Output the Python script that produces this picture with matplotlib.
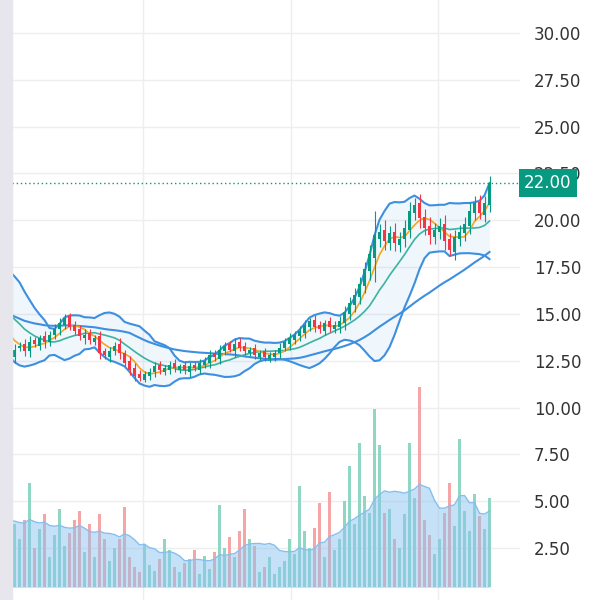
import matplotlib
matplotlib.use("Agg")
import matplotlib.pyplot as plt
import numpy as np
import pandas as pd
from matplotlib.patches import Rectangle

pre_closes = [16.6, 16.2, 16.4, 15.8, 15.5, 15.1, 14.8, 14.9, 14.3, 13.8, 13.5, 13.2]
pre_volumes = [4.2, 3.9, 4.4, 3.6, 4.0, 4.3, 3.8, 4.1, 3.7, 3.9, 4.0, 3.8]

closes = [13.1, 13.3, 13.0, 13.5, 13.4, 13.7, 13.5, 13.9, 14.2, 14.5, 14.8, 14.3, 14.1, 13.8, 13.9, 13.6,
          13.7, 12.9, 12.8, 13.0, 13.3, 12.9, 12.4, 12.0, 11.7, 11.6, 11.8, 11.9, 12.2, 12.0, 12.1, 12.3,
          12.1, 12.2, 12.0, 12.2, 12.1, 12.4, 12.5, 12.8, 12.7, 13.1, 13.3, 13.1, 13.4, 13.2, 13.0, 13.1,
          12.8, 12.9, 12.7, 12.8, 12.9, 13.2, 13.5, 13.7, 13.9, 14.1, 14.4, 14.6, 14.3, 14.2, 14.5, 14.3,
          14.4, 14.6, 15.1, 15.6, 16.0, 16.6, 17.4, 18.2, 19.2, 19.4, 18.9, 19.3, 18.8, 19.0, 19.6, 20.5,
          20.8, 20.1, 19.6, 19.2, 19.5, 19.7, 18.9, 18.4, 19.1, 19.4, 19.8, 20.5, 20.9, 20.4, 20.9, 22.0]
opens = [12.7, 13.2, 13.4, 13.0, 13.6, 13.3, 13.8, 13.5, 13.9, 14.2, 14.4, 14.9, 14.4, 14.2, 13.7, 14.0,
         13.5, 13.8, 13.0, 12.7, 13.0, 13.4, 12.9, 12.5, 12.1, 11.8, 11.5, 11.7, 11.9, 12.3, 11.9, 12.0,
         12.4, 12.0, 12.3, 11.9, 12.3, 12.0, 12.3, 12.4, 12.9, 12.6, 13.0, 13.4, 13.0, 13.5, 13.3, 12.9,
         13.2, 12.7, 13.0, 12.6, 12.7, 12.9, 13.2, 13.4, 13.6, 13.8, 14.0, 14.3, 14.7, 14.4, 14.1, 14.6,
         14.2, 14.3, 14.5, 15.0, 15.5, 15.9, 16.5, 17.3, 18.0, 19.0, 19.5, 18.8, 19.4, 18.7, 19.0, 19.5,
         20.4, 20.9, 20.2, 19.7, 19.1, 19.4, 19.8, 19.0, 18.3, 19.0, 19.3, 19.7, 20.4, 21.0, 20.3, 20.8]
wicks = [0.3, 0.2, 0.25, 0.3, 0.15, 0.2, 0.3, 0.2, 0.25, 0.3, 0.2, 0.15, 0.25, 0.2, 0.3, 0.2,
         0.15, 0.3, 0.2, 0.25, 0.2, 0.3, 0.2, 0.25, 0.3, 0.2, 0.15, 0.2, 0.25, 0.2, 0.15, 0.2,
         0.2, 0.15, 0.2, 0.25, 0.15, 0.2, 0.2, 0.3, 0.2, 0.25, 0.2, 0.15, 0.3, 0.2, 0.2, 0.15,
         0.2, 0.15, 0.2, 0.15, 0.2, 0.25, 0.2, 0.3, 0.2, 0.25, 0.3, 0.2, 0.25, 0.2, 0.2, 0.25,
         0.2, 0.3, 0.35, 0.3, 0.4, 0.35, 0.4, 0.5, 1.3, 0.4, 0.5, 0.4, 0.45, 0.4, 0.4, 0.45,
         0.4, 0.5, 0.4, 0.45, 0.35, 0.4, 0.5, 0.3, 0.4, 0.35, 0.4, 0.45, 0.4, 0.35, 0.4, 0.35]
volumes = [3.8, 3.0, 4.0, 6.0, 2.5, 3.5, 4.3, 2.0, 3.2, 4.6, 2.6, 3.3, 4.0, 4.5, 2.3, 3.8, 2.0, 4.3, 3.0, 1.8,
           2.5, 3.0, 4.7, 2.0, 1.5, 1.2, 2.7, 1.6, 1.3, 1.9, 3.0, 2.4, 1.5, 1.2, 1.7, 1.9, 2.4, 1.1, 2.1, 1.4,
           2.3, 4.8, 2.5, 3.1, 2.0, 3.4, 4.6, 3.0, 2.6, 1.2, 1.5, 2.0, 1.1, 1.5, 1.8, 3.0, 2.2, 5.8, 3.4, 2.5,
           3.6, 4.9, 2.0, 5.5, 2.4, 3.0, 5.0, 6.9, 3.8, 8.1, 5.3, 4.4, 9.9, 8.0, 4.4, 4.6, 3.0, 2.5, 4.3, 8.1,
           5.2, 11.1, 4.0, 3.2, 2.2, 3.0, 4.4, 6.0, 3.7, 8.3, 4.5, 3.4, 5.4, 4.2, 3.5, 5.2]
vol_base = 0.4
yticks = [2.5, 5.0, 7.5, 10.0, 12.5, 15.0, 17.5, 20.0, 22.5, 25.0, 27.5, 30.0]
last_price = 22.00

UP, DN = "#089981", "#f23645"
n = len(closes)
npre = len(pre_closes)
x = np.arange(n)
xall = np.arange(-npre, n)
allc = pd.Series(pre_closes + closes)
allv = pd.Series(pre_volumes + volumes)
mid = allc.rolling(12, min_periods=1).mean()
sd = allc.rolling(12, min_periods=2).std().bfill()
upper = mid + 2 * sd
lower = mid - 2 * sd
ma_short = allc.rolling(5, min_periods=1).mean()
ma_long = allc.rolling(36, min_periods=1).mean()
vma = allv.rolling(12, min_periods=1).mean()

fig = plt.figure(figsize=(6, 6), dpi=100)
fig.patches.append(Rectangle((0, 0), 12 / 600, 1, transform=fig.transFigure, color="#e6e6ec", zorder=0))
ax = fig.add_axes([12 / 600, 0, 508 / 600, 1])
ax.set_xlim(-0.5, -0.5 + 508 / 5)
ax.set_ylim(-0.27, 31.76)
for s in ax.spines.values():
    s.set_visible(False)
ax.yaxis.tick_right()
ax.set_yticks(yticks)
ax.set_yticklabels([f"{t:.2f}" for t in yticks], fontsize=12, color="#333333")
ax.tick_params(axis="y", length=0, pad=10)
ax.set_xticks([25.6, 55.2, 84.6])
ax.set_xticklabels([])
ax.tick_params(axis="x", length=0)
ax.grid(True, color="#eeeeee", lw=1)
ax.set_axisbelow(True)

# volume
vcol = ["#8fd6c3" if c >= o else "#f6a5a7" for o, c in zip(opens, closes)]
ax.bar(x, np.array(volumes) - vol_base, bottom=vol_base, width=0.45, color=vcol, zorder=1)
ax.fill_between(xall, vol_base, vma, color="#8cc4f0", alpha=0.5, lw=0, zorder=2)
ax.plot(xall, vma, color="#86bfee", lw=1, zorder=2)

# bollinger
ax.fill_between(xall, lower, upper, color="#3d8fe0", alpha=0.08, lw=0, zorder=2)
ax.plot(xall, upper, color="#3d8fe0", lw=1.5, zorder=3)
ax.plot(xall, lower, color="#3d8fe0", lw=1.5, zorder=3)
ax.plot(xall, ma_long, color="#3d8fe0", lw=1.5, zorder=3)
ax.plot(xall, mid, color="#3bb39f", lw=1.2, zorder=3)
ax.plot(xall, ma_short, color="#f5a623", lw=1.2, zorder=3)

# candles
for i in x:
    o, c, w = opens[i], closes[i], wicks[i]
    col = UP if c >= o else DN
    ax.vlines(i, min(o, c) - w, max(o, c) + w, color=col, lw=0.8, zorder=4)
    ax.bar(i, max(abs(c - o), 0.05), bottom=min(o, c), width=0.5, color=col, zorder=4)

ax.axhline(last_price, color="#089981", ls=(0, (1, 2)), lw=1, zorder=3)
ax.text(1.008, last_price, f"{last_price:.2f}", transform=ax.get_yaxis_transform(), va="center", ha="left",
        fontsize=12, color="white", bbox=dict(boxstyle="square,pad=0.3", fc="#089981", ec="none"), zorder=5)

fig.savefig("out.png", dpi=100)
